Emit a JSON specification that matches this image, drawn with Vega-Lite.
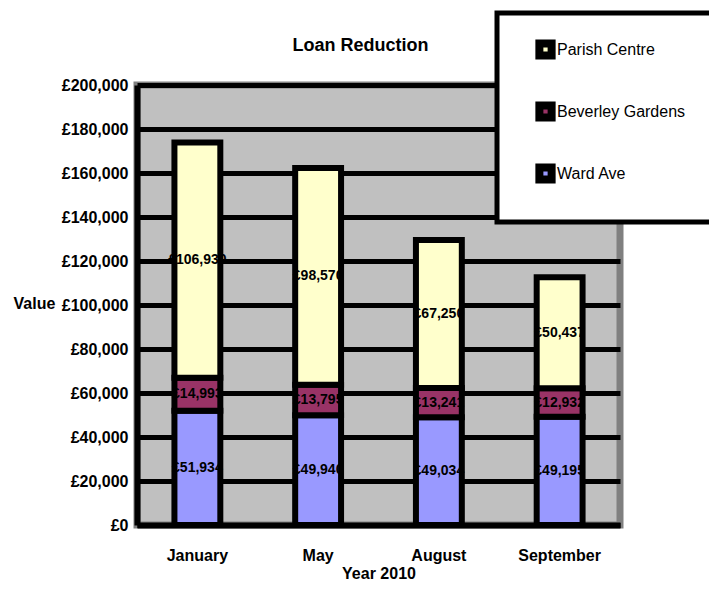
{
  "$schema": "https://vega.github.io/schema/vega-lite/v6.json",
  "width": 483,
  "height": 440,
  "autosize": {"type": "none"},
  "padding": {"left": 137, "top": 85, "right": 89, "bottom": 76},
  "background": "white",
  "data": {
    "values": [
      {"month": "January", "series": "Ward Ave", "value": 51934},
      {"month": "January", "series": "Beverley Gardens", "value": 14993},
      {"month": "January", "series": "Parish Centre", "value": 106930},
      {"month": "May", "series": "Ward Ave", "value": 49940},
      {"month": "May", "series": "Beverley Gardens", "value": 13795},
      {"month": "May", "series": "Parish Centre", "value": 98570},
      {"month": "August", "series": "Ward Ave", "value": 49034},
      {"month": "August", "series": "Beverley Gardens", "value": 13241},
      {"month": "August", "series": "Parish Centre", "value": 67250},
      {"month": "September", "series": "Ward Ave", "value": 49195},
      {"month": "September", "series": "Beverley Gardens", "value": 12932},
      {"month": "September", "series": "Parish Centre", "value": 50437}
    ]
  },
  "transform": [
    {"calculate": "indexof(['Ward Ave','Beverley Gardens','Parish Centre'], datum.series)", "as": "ord"},
    {"stack": "value", "groupby": ["month"], "sort": [{"field": "ord", "order": "ascending"}], "as": ["v0", "v1"]},
    {"calculate": "(datum.v0 + datum.v1) / 2", "as": "mid"}
  ],
  "title": {
    "text": "Loan Reduction",
    "anchor": "middle",
    "dx": -18,
    "dy": 77,
    "offset": 33,
    "fontSize": 18,
    "fontWeight": "bold",
    "font": "Liberation Sans Narrow, Liberation Sans",
    "color": "black"
  },
  "layer": [
    {
      "mark": {"type": "bar", "stroke": "black", "strokeWidth": 6, "opacity": 1},
      "encoding": {
        "x": {
          "field": "month",
          "type": "nominal",
          "sort": ["January", "May", "August", "September"],
          "scale": {"paddingInner": 0.62, "paddingOuter": 0.31},
          "title": "Year 2010",
          "axis": {
            "labelAngle": 0,
            "ticks": false,
            "domainColor": "black",
            "domainWidth": 6,
            "labelPadding": 22,
            "titlePadding": 2
          }
        },
        "y": {
          "field": "v0",
          "type": "quantitative",
          "scale": {"domain": [0, 200000]},
          "title": "Value",
          "axis": {
            "values": [0, 20000, 40000, 60000, 80000, 100000, 120000, 140000, 160000, 180000, 200000],
            "format": "$,.0f",
            "ticks": false,
            "grid": true,
            "gridColor": "black",
            "gridWidth": 5,
            "gridOpacity": 1,
            "domainColor": "black",
            "domainWidth": 6,
            "labelPadding": 9,
            "titleAngle": 0,
            "titleAlign": "left",
            "titleBaseline": "middle",
            "titleX": -124,
            "titleY": 218
          }
        },
        "y2": {"field": "v1"},
        "color": {
          "field": "series",
          "type": "nominal",
          "scale": {
            "domain": ["Parish Centre", "Beverley Gardens", "Ward Ave"],
            "range": ["#FFFFCC", "#993366", "#9999FF"]
          },
          "legend": {
            "title": null,
            "orient": "none",
            "legendX": 360,
            "legendY": -72,
            "padding": 26,
            "symbolOffset": 12,
            "fillColor": "white",
            "strokeColor": "black",
            "symbolType": "square",
            "symbolSize": 150,
            "symbolStrokeColor": "black",
            "symbolStrokeWidth": 8,
            "symbolOpacity": 1,
            "labelFontSize": 16,
            "labelFont": "Liberation Sans Narrow, Liberation Sans",
            "labelColor": "black",
            "labelOffset": 1,
            "rowPadding": 17
          }
        }
      }
    },
    {
      "mark": {
        "type": "text",
        "font": "Liberation Sans Narrow, Liberation Sans",
        "fontWeight": "bold",
        "fontSize": 14,
        "color": "black"
      },
      "encoding": {
        "x": {"field": "month", "type": "nominal", "sort": ["January", "May", "August", "September"]},
        "y": {"field": "mid", "type": "quantitative"},
        "text": {"field": "value", "type": "quantitative", "format": "$,.0f"}
      }
    }
  ],
  "config": {
    "locale": {
      "number": {"decimal": ".", "thousands": ",", "grouping": [3], "currency": ["£", ""]}
    },
    "legend": {"strokeWidth": 5},
    "view": {"fill": "#C0C0C0", "stroke": "#808080", "strokeWidth": 7},
    "axis": {
      "labelFont": "Liberation Sans Narrow, Liberation Sans",
      "labelFontSize": 16,
      "labelFontWeight": "bold",
      "labelColor": "black",
      "titleFont": "Liberation Sans Narrow, Liberation Sans",
      "titleFontSize": 16,
      "titleFontWeight": "bold",
      "titleColor": "black"
    }
  }
}
